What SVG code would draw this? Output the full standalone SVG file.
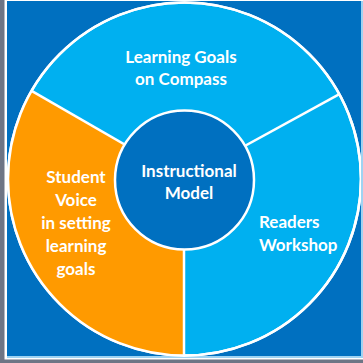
<svg xmlns="http://www.w3.org/2000/svg" width="363" height="363" viewBox="0 0 363 363">
<defs>
<style>
.lbl{font-family:Lato,"Liberation Sans",sans-serif;font-weight:bold;font-size:17px;fill:#ffffff}
.c{text-anchor:middle}
.div{stroke:#ffffff;stroke-width:2.5;fill:none}
</style>
<clipPath id="frame"><rect x="7" y="1" width="354" height="356"/></clipPath>
</defs>
<rect x="0" y="0" width="363" height="363" fill="#ffffff"/>
<rect x="0" y="0" width="4.5" height="363" fill="#6E7585"/>
<rect x="0" y="359.5" width="363" height="3.5" fill="#6E7585"/>
<rect x="7" y="1" width="354" height="356" fill="#0070C0"/>
<rect x="361" y="1" width="2" height="357" fill="#9FD3F2"/>
<rect x="7" y="356" width="356" height="2" fill="#9FD3F2"/>
<g clip-path="url(#frame)">
<g id="ring">
<circle cx="184.5" cy="179" r="176.5" fill="#00B0F0" stroke="#ffffff" stroke-width="2.5"/>
<path id="student-voice" d="M184.5,179 L184.5,355.5 A176.5,176.5 0 0 1 31.6,90.8 Z" fill="#FF9A00"/>
<circle cx="184.5" cy="179" r="176.5" fill="none" stroke="#ffffff" stroke-width="2.5"/>
</g>
<g id="connectors">
<line class="div" x1="184.5" y1="179" x2="31.6" y2="90.8"/>
<line class="div" x1="184.5" y1="179" x2="339.4" y2="94.2"/>
<line class="div" x1="184" y1="179" x2="184" y2="357"/>
</g>
</g>
<g id="instructional-model">
<circle cx="184.5" cy="180" r="69.5" fill="#0070C0" stroke="#ffffff" stroke-width="2.5"/>
<text class="lbl c" x="189" y="177">Instructional</text>
<text class="lbl c" x="189" y="199">Model</text>
</g>
<g id="learning-goals">
<text class="lbl c" x="181" y="63">Learning Goals</text>
<text class="lbl c" x="181" y="85">on Compass</text>
</g>
<g id="readers-workshop">
<text class="lbl" x="259" y="228">Readers</text>
<text class="lbl" x="259" y="251">Workshop</text>
</g>
<g id="student-voice-label">
<text class="lbl c" x="76" y="183">Student</text>
<text class="lbl c" x="76" y="206">Voice</text>
<text class="lbl c" x="76" y="229">in setting</text>
<text class="lbl c" x="76" y="252">learning</text>
<text class="lbl c" x="76" y="275">goals</text>
</g>
</svg>
